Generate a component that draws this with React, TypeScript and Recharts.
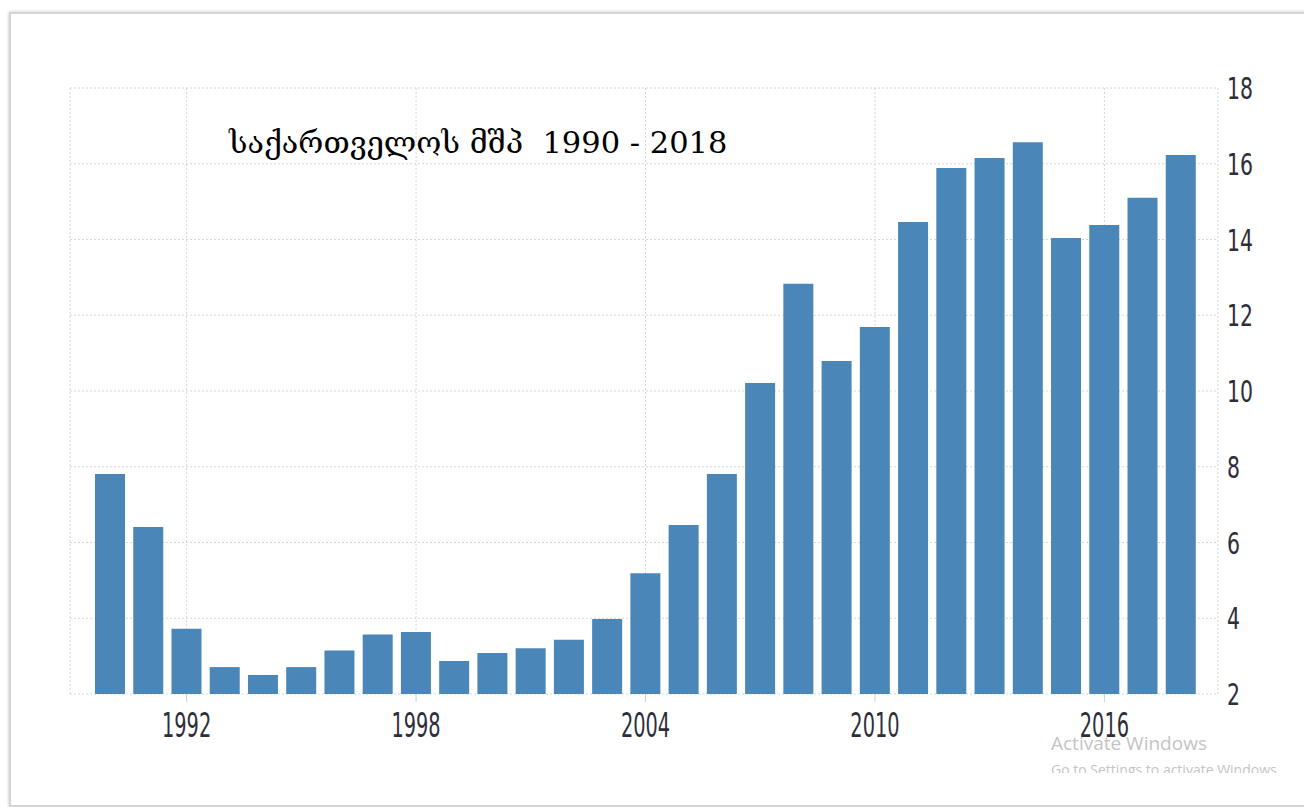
import React from 'react';
import { BarChart, Bar, XAxis, YAxis, CartesianGrid } from 'recharts';

// GDP of Georgia, billions USD
const years = [
  '1990', '1991', '1992', '1993', '1994', '1995', '1996', '1997', '1998', '1999',
  '2000', '2001', '2002', '2003', '2004', '2005', '2006', '2007', '2008', '2009',
  '2010', '2011', '2012', '2013', '2014', '2015', '2016', '2017', '2018',
];
const gdp = [
  7.81, 6.41, 3.72, 2.71, 2.5, 2.71, 3.15, 3.57, 3.64, 2.87,
  3.08, 3.21, 3.43, 3.98, 5.19, 6.46, 7.81, 10.21, 12.83, 10.79,
  11.69, 14.46, 15.89, 16.15, 16.57, 14.04, 14.38, 15.1, 16.23,
];
const xTicks = ['1992', '1998', '2004', '2010', '2016'];
const yTicks = [2, 4, 6, 8, 10, 12, 14, 16, 18];

const title = 'საქართველოს მშპ  1990 - 2018';

const chartData = years.map((year, i) => ({ year, value: gdp[i] }));

const axisFont = "'DejaVu Sans Condensed', 'DejaVu Sans', sans-serif";

// narrow, tall digits like the original's condensed font
const NarrowTick = (props: any) => {
  const { x, y, payload, anchor, dy, size, perChar } = props;
  const label = String(payload.value);
  return (
    <text
      x={x}
      y={y}
      dy={dy}
      textAnchor={anchor}
      fontSize={size}
      fontFamily={axisFont}
      fill="#2e2e3a"
      textLength={perChar * label.length}
      lengthAdjust="spacingAndGlyphs"
    >
      {label}
    </text>
  );
};

export default function App() {
  return (
    <div style={{ position: 'absolute', left: 0, top: 0, width: 1304, height: 807, overflow: 'hidden', background: '#fff' }}>
      {/* screenshot frame */}
      <div
        style={{
          position: 'absolute',
          left: 9,
          top: 12,
          width: 1320,
          height: 791,
          border: '2px solid #d4d4d4',
          boxShadow: '0 0 3px rgba(0,0,0,0.25)',
        }}
      />
      <div style={{ position: 'absolute', left: 0, top: 0 }}>
        <BarChart
          width={1304}
          height={807}
          data={chartData}
          margin={{ top: 88, right: 26, bottom: 73, left: 70 }}
        >
          <CartesianGrid stroke="#d6d6d6" strokeDasharray="2 2" />
          <XAxis
            dataKey="year"
            ticks={xTicks}
            padding={{ left: 21, right: 18 }}
            axisLine={false}
            tickLine={{ stroke: '#cfcfcf' }}
            tickSize={8}
            tickMargin={11}
            height={40}
            tick={<NarrowTick anchor="middle" dy="0.73em" size={33} perChar={12.3} />}
          />
          <YAxis
            orientation="right"
            domain={[2, 18]}
            ticks={yTicks}
            axisLine={false}
            tickLine={false}
            tickSize={0}
            tickMargin={9}
            width={60}
            tick={<NarrowTick anchor="start" dy="0.36em" size={31} perChar={13} />}
          />
          <Bar dataKey="value" fill="#4a86b8" barSize={30} isAnimationActive={false} />
        </BarChart>
      </div>
      <div
        style={{
          position: 'absolute',
          left: 229,
          top: 123,
          fontFamily: "'DejaVu Serif', serif",
          fontSize: 30.5,
          color: '#000',
          whiteSpace: 'pre',
          lineHeight: '40px',
        }}
      >
        {title}
      </div>
      <div
        style={{
          position: 'absolute',
          left: 1051,
          top: 730,
          fontFamily: "'Open Sans', sans-serif",
          fontSize: 19,
          color: '#c4c4c4',
          whiteSpace: 'nowrap',
        }}
      >
        Activate Windows
      </div>
      <div
        style={{
          position: 'absolute',
          left: 1051,
          top: 760,
          height: 13,
          overflow: 'hidden',
          fontFamily: "'Open Sans', sans-serif",
          fontSize: 14,
          lineHeight: '20px',
          color: '#c4c4c4',
          whiteSpace: 'nowrap',
        }}
      >
        Go to Settings to activate Windows
      </div>
    </div>
  );
}
